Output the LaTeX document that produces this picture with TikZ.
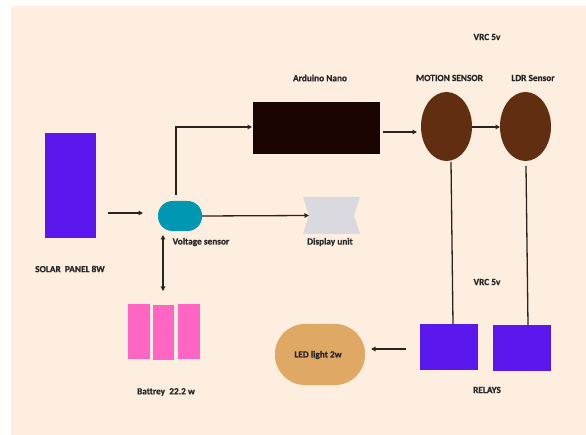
\documentclass[tikz,border=0pt]{standalone}
\usepackage{fontspec}
\setmainfont{Carlito}[BoldFeatures={FakeBold=0.6}]
\usetikzlibrary{arrows.meta,shapes.geometric}
\definecolor{cream}{HTML}{FDEEDF}
\definecolor{panelpurple}{HTML}{5A17EE}
\definecolor{vsteal}{HTML}{0097B2}
\definecolor{ardblack}{HTML}{1A0400}
\definecolor{sensbrown}{HTML}{612E11}
\definecolor{batpink}{HTML}{FF66C4}
\definecolor{dispgray}{HTML}{D9D9DF}
\definecolor{ledtan}{HTML}{E0A865}
\definecolor{linecol}{HTML}{2A2420}
\definecolor{textcol}{HTML}{262626}
\begin{document}
\begin{tikzpicture}[x=1pt,y=-1pt,
  lbl/.style={font=\bfseries\fontsize{9.3}{10}\selectfont, text=textcol, inner sep=0pt},
  conn/.style={draw=linecol, line width=1.3pt},
  arr/.style={conn, -{Triangle[length=4.5pt,width=4.5pt]}},
  darr/.style={conn, {Triangle[length=4.5pt,width=4.5pt]}-{Triangle[length=4.5pt,width=4.5pt]}},
  box/.style={rectangle, inner sep=0pt, outer sep=0pt}]
\useasboundingbox (0,0) rectangle (586,435);
\fill[cream] (11,6) rectangle (586,435);

% solar panel
\node[box, fill=panelpurple, minimum width=51pt, minimum height=105pt] (solar) at (70.5,185.5) {};
\node[lbl] (solarlbl) at (70,269) {SOLAR\ \ PANEL 8W};

% voltage sensor
\node[box, fill=vsteal, minimum width=44pt, minimum height=30pt, rounded corners=14.5pt] (vs) at (180,216) {};
\node[lbl] (vslbl) at (201,242) {Voltage sensor};

% battery
\node[box, fill=batpink, minimum width=22pt, minimum height=55pt] (bat1) at (139,331.5) {};
\node[box, fill=batpink, minimum width=21pt, minimum height=55pt] (bat2) at (163.5,332.5) {};
\node[box, fill=batpink, minimum width=22pt, minimum height=55pt] (bat3) at (189,331.5) {};
\node[lbl] (batlbl) at (166,392) {Battrey\ \ 22.2 w};

% arduino
\node[box, fill=ardblack, minimum width=127pt, minimum height=52pt] (ard) at (316.5,128) {};
\node[lbl] (ardlbl) at (320,78) {Arduino Nano};

% display unit
\node[box, minimum width=57pt, minimum height=37pt] (disp) at (331.5,215.5) {};
\fill[dispgray] (disp.north west) -- (disp.north east) -- ([xshift=-6pt]disp.east) -- (disp.south east) -- (disp.south west) -- ([xshift=6pt]disp.west) -- cycle;
\coordinate (dispin) at ([xshift=6pt]disp.west);
\node[lbl] (displbl) at (330,242) {Display unit};

% sensors
\node[ellipse, fill=sensbrown, minimum width=51pt, minimum height=69pt, inner sep=0pt, outer sep=0pt] (mot) at (446.5,126.5) {};
\node[ellipse, fill=sensbrown, minimum width=51pt, minimum height=69pt, inner sep=0pt, outer sep=0pt] (ldr) at (525.5,126.5) {};
\node[lbl] (motlbl) at (449.5,78) {MOTION SENSOR};
\node[lbl] (ldrlbl) at (533,78) {LDR Sensor};
\node[lbl] (vrc1) at (487,37) {VRC 5v};

% relays
\node[box, fill=panelpurple, minimum width=58pt, minimum height=46pt] (rel1) at (449,347) {};
\node[box, fill=panelpurple, minimum width=58pt, minimum height=46pt] (rel2) at (522,348) {};
\node[lbl] (vrc2) at (487,282) {VRC 5v};
\node[lbl] (rellbl) at (487,390) {RELAYS};

% LED
\node[box, fill=ledtan, minimum width=90pt, minimum height=61pt, rounded corners=30pt] (led) at (320,354.5) {};
\node[lbl] (ledlbl) at (318,355) {LED light 2w};

% connectors
\draw[arr, shorten <=12pt, shorten >=15pt] (solar.east |- 0,213) -- (vs.west |- 0,213);
\draw[arr] (vs.east) -- (dispin);
\coordinate (vsup) at (176,195);
\draw[arr] (vsup) |- ([xshift=-1pt]ard.west |- 0,127);
\draw[darr, shorten <=4pt, shorten >=14pt] (vs.south -| 163,0) -- (bat2.north -| 163,0);
\draw[arr, shorten <=3pt, shorten >=4pt] (ard.east |- 0,132) -- (mot.west |- 0,132);
\draw[arr] (mot.east |- 0,127) -- (ldr.west |- 0,127);
\coordinate (motbot) at (451,162);
\coordinate (ldrbot) at (526,166);
\draw[conn] (motbot) -- (453,324);
\draw[conn] (ldrbot) -- (528,325);
\draw[arr, shorten <=14pt, shorten >=6pt] (rel1.west |- 0,349) -- (led.east |- 0,349);
\end{tikzpicture}
\end{document}
